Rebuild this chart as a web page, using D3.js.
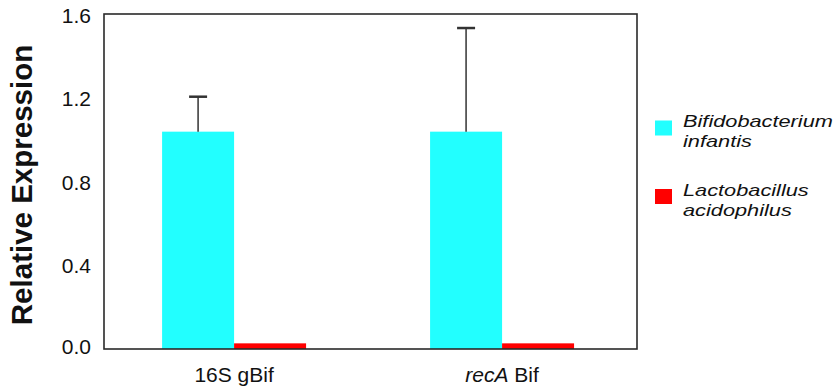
<!DOCTYPE html>
<html>
<head>
<meta charset="utf-8">
<script src="https://cdn.jsdelivr.net/npm/d3@7/dist/d3.min.js"></script>
<style>
  html, body { margin: 0; padding: 0; background: #fff; }
  svg { display: block; }
  text { font-family: "Liberation Sans", Arial, sans-serif; fill: #111; }
</style>
</head>
<body>
<svg id="chart" width="840" height="387"></svg>
<script>
// ---- data ----
const categories = ["16S gBif", "recA Bif"];
const seriesNames = ["Bifidobacterium infantis", "Lactobacillus acidophilus"];
const seriesColors = ["#22ffff", "#ff0000"];
const bifValues = [1.038, 1.038];
const bifErrors = [0.167, 0.495];
const lactoValues = [0.027, 0.027];
const lactoErrors = [0, 0];
const yTicks = [0.0, 0.4, 0.8, 1.2, 1.6];

const series = [
  { name: seriesNames[0], color: seriesColors[0], values: bifValues, errors: bifErrors },
  { name: seriesNames[1], color: seriesColors[1], values: lactoValues, errors: lactoErrors }
];

(function draw() {
const svg = d3.select("#chart");
const mLeft = 104, mRight = 637, mTop = 14, mBottom = 349;

const y = d3.scaleLinear().domain([0, 1.6]).range([mBottom, mTop]);
const x0 = d3.scaleBand().domain(categories).range([mLeft, mRight])
  .paddingInner(0.4627).paddingOuter(0.2258).align(0.48);
const x1 = d3.scaleBand().domain(d3.range(series.length)).range([0, x0.bandwidth()]);

// bars
const groups = svg.append("g").selectAll("g").data(categories).join("g")
  .attr("transform", c => `translate(${x0(c)},0)`);

groups.each(function(c, ci) {
  const g = d3.select(this);
  series.forEach((s, si) => {
    const v = s.values[ci];
    g.append("rect")
      .attr("x", x1(si))
      .attr("width", x1.bandwidth())
      .attr("y", y(v))
      .attr("height", y(0) - y(v))
      .attr("fill", s.color);
    const e = s.errors[ci];
    if (e > 0) {
      const cx = x1(si) + x1.bandwidth() / 2;
      g.append("line")
        .attr("x1", cx).attr("x2", cx)
        .attr("y1", y(v)).attr("y2", y(v + e))
        .attr("stroke", "#333").attr("stroke-width", 1.5);
      g.append("line")
        .attr("x1", cx - 9).attr("x2", cx + 9)
        .attr("y1", y(v + e)).attr("y2", y(v + e))
        .attr("stroke", "#333").attr("stroke-width", 2.5);
    }
  });
});

// frame
svg.append("rect")
  .attr("x", mLeft).attr("y", mTop)
  .attr("width", mRight - mLeft).attr("height", mBottom - mTop)
  .attr("fill", "none").attr("stroke", "#2a2a2a").attr("stroke-width", 1.6);

// y axis labels (no tick marks)
const yAxis = d3.axisLeft(y).tickValues(yTicks).tickFormat(d3.format(".1f"))
  .tickSize(0).tickPadding(13);
const ya = svg.append("g").attr("transform", `translate(${mLeft},0)`).call(yAxis);
ya.select(".domain").remove();
ya.selectAll("text")
  .attr("font-family", "Liberation Sans, Arial, sans-serif")
  .attr("font-size", 21).attr("fill", "#111")
  .attr("dy", d => (d === 0 ? "0.22em" : d === 1.6 ? "0.42em" : "0.36em"));

// x labels
const xl = svg.append("g");
categories.forEach(c => {
  const t = xl.append("text")
    .attr("x", x0(c) + x0.bandwidth() / 2)
    .attr("y", 381.5)
    .attr("text-anchor", "middle")
    .attr("font-size", 21);
  if (c.startsWith("recA")) {
    t.append("tspan").attr("font-style", "italic").text("recA");
    t.append("tspan").text(c.slice(4));
  } else {
    t.text(c);
  }
});

// y title
svg.append("text")
  .attr("transform", "translate(32,185) rotate(-90)")
  .attr("text-anchor", "middle")
  .attr("font-size", 29.5)
  .attr("font-weight", "bold")
  .text("Relative Expression");

// legend
const legend = svg.append("g");
const legendY = [120.5, 189];
series.forEach((s, i) => {
  legend.append("rect")
    .attr("x", 655).attr("y", legendY[i])
    .attr("width", 17).attr("height", 15)
    .attr("fill", s.color);
  const words = s.name.split(" ");
  const tg = legend.append("g")
    .attr("transform", `translate(683,${legendY[i] + 6.8}) scale(1.28,1)`);
  words.forEach((w, wi) => {
    tg.append("text")
      .attr("x", 0).attr("y", wi * 19.8)
      .attr("font-size", 17)
      .attr("font-style", "italic")
      .attr("fill", "#1a1a1a")
      .text(w);
  });
});
})();
</script>
</body>
</html>
